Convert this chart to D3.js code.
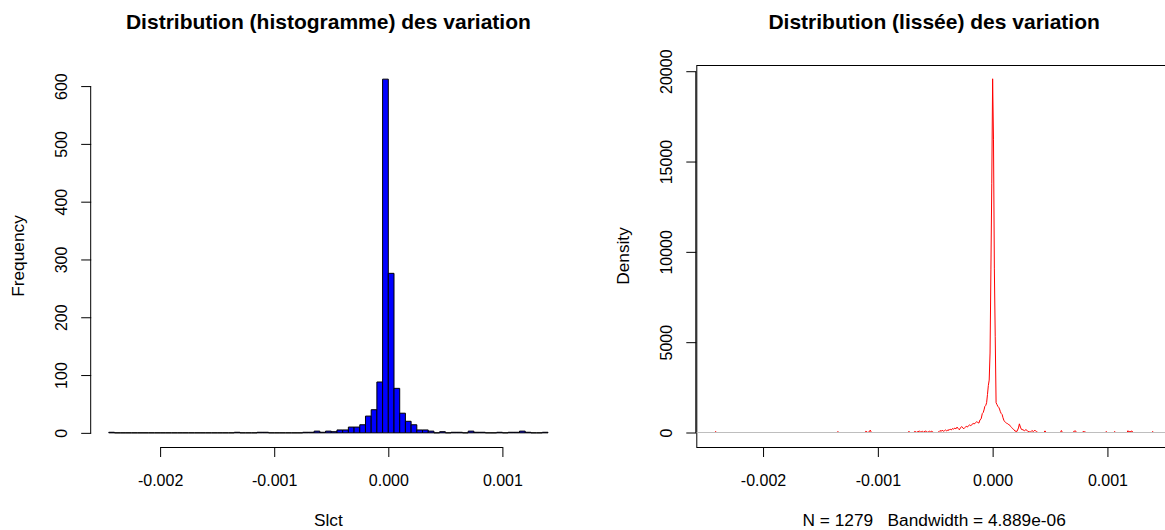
<!DOCTYPE html>
<html><head><meta charset="utf-8">
<script src="https://cdn.jsdelivr.net/npm/d3@7"></script>
<style>
html,body{margin:0;padding:0;background:#fff;}
svg{display:block;font-family:"Liberation Sans",Arial,Helvetica,sans-serif;}
</style></head><body>
<svg id="chart" width="1165" height="530"></svg>
<script>
// Histogram: first break and bin width, then counts per bin
const binStart = -0.00245;
const binWidth = 0.00005;
const counts = [
  1, 0,0,0,0,0,0,0,0,0,0,0,0,0,0,0,0,0,0,0,0,0,
  1, 0,0,0, 1, 1, 0,0,0,0,0,0,
  1, 1, 3, 1, 3, 2, 5, 5, 10, 10, 14, 29, 40, 88, 612,
  276, 77, 34, 20, 14, 5, 5, 3, 0, 2, 0, 1, 1, 0, 3, 1, 1, 0, 0, 1, 0, 1, 1, 3, 1, 0, 0, 1
];

// Kernel density estimate: [x, density]
const densityPoints = [
  [-0.002428, 0],
  [-0.002421, 0], [-0.002413, 60], [-0.002405, 0],
  [-0.001356, 0], [-0.001348, 58], [-0.001340, 0],
  [-0.001112, 0], [-0.001104, 75], [-0.001092, 8], [-0.001080, 15], [-0.001066, 130], [-0.001056, 0],
  [-0.000737, 0], [-0.000729, 70], [-0.000721, 0],
  [-0.000690, 0], [-0.000677, 60], [-0.000664, 10], [-0.000650, 50], [-0.000638, 75], [-0.000625, 20],
  [-0.000612, 65], [-0.000600, 15], [-0.000588, 80], [-0.000577, 60], [-0.000565, 10], [-0.000551, 70],
  [-0.000540, 40], [-0.000530, 70], [-0.000518, 5], [-0.000505, 0],
  [-0.000480, 0], [-0.000468, 40], [-0.000458, 110], [-0.000448, 60], [-0.000440, 130], [-0.000430, 70],
  [-0.000420, 100], [-0.000410, 140], [-0.000400, 80], [-0.000390, 150], [-0.000380, 120], [-0.000370, 190],
  [-0.000360, 140], [-0.000350, 220], [-0.000340, 180], [-0.000330, 250], [-0.000320, 200], [-0.000310, 300],
  [-0.000300, 220], [-0.000290, 150], [-0.000280, 260], [-0.000270, 330], [-0.000260, 250], [-0.000250, 210],
  [-0.000240, 280], [-0.000230, 350], [-0.000220, 300], [-0.000210, 380], [-0.000200, 420], [-0.000190, 380],
  [-0.000180, 440], [-0.000170, 500], [-0.000160, 470], [-0.000150, 540], [-0.000140, 590], [-0.000130, 560],
  [-0.000120, 520], [-0.000110, 700], [-0.000100, 760],
  [-0.0000900, 1050], [-0.0000825, 1100], [-0.0000750, 1250], [-0.0000675, 1450], [-0.0000600, 1500],
  [-0.0000525, 1650], [-0.0000450, 2100], [-0.0000375, 2600], [-0.0000300, 2900], [-0.0000225, 4400],
  [-0.0000150, 9000], [-0.0000075, 13800], [0, 19580], [0.0000075, 16200], [0.0000150, 9100],
  [0.0000225, 5300], [0.0000300, 1650], [0.0000375, 1550], [0.0000450, 1450], [0.0000525, 1400],
  [0.0000600, 1300], [0.0000675, 1150], [0.0000750, 1050], [0.0000825, 1000], [0.0000900, 820],
  [0.0000975, 680], [0.0001050, 600], [0.0001125, 560], [0.0001200, 520], [0.0001275, 500],
  [0.0001350, 460], [0.0001425, 430], [0.0001500, 400], [0.0001575, 330], [0.0001650, 280],
  [0.0001725, 220], [0.0001800, 180], [0.0001875, 150], [0.000194, 80], [0.000212, 60],
  [0.000225, 250], [0.000233, 480], [0.000242, 300], [0.000251, 170], [0.000264, 150], [0.000277, 100],
  [0.000290, 160], [0.000303, 90], [0.000316, 40], [0.000329, 20], [0.000342, 110], [0.000355, 50],
  [0.000368, 130], [0.000382, 40], [0.000395, 0],
  [0.000446, 0], [0.000456, 90], [0.000466, 0],
  [0.000590, 0], [0.000599, 110], [0.000608, 0],
  [0.000703, 0], [0.000710, 90], [0.000716, 60], [0.000722, 90], [0.000730, 0],
  [0.000782, 0], [0.000790, 70], [0.000797, 20], [0.000803, 60], [0.000810, 0],
  [0.000982, 0], [0.000990, 60], [0.000998, 0],
  [0.001055, 0], [0.001063, 60], [0.001071, 0],
  [0.001170, 0], [0.001179, 100], [0.001188, 30], [0.001196, 60], [0.001205, 40], [0.001213, 90], [0.001222, 0],
  [0.001386, 0], [0.001394, 60], [0.001402, 0],
  [0.001409, 0]
];

const xTicks = [-0.002, -0.001, 0, 0.001];
const xTickLabels = ["-0.002", "-0.001", "0.000", "0.001"];
const freqTicks = [0, 100, 200, 300, 400, 500, 600];
const densTicks = [0, 5000, 10000, 15000, 20000];
const sampleSize = 1279;
const bandwidthLabel = "4.889e-06";

const titleHist = "Distribution (histogramme) des variation";
const titleDens = "Distribution (lissée) des variation";
const xLabelHist = "Slct";
const yLabelHist = "Frequency";
const yLabelDens = "Density";

const svg = d3.select("#chart");
const FS = 16;        // tick labels
const FS_LAB = 17.3;  // axis titles
const FS_MAIN = 21;   // main titles

// R-style 4% range extension
const expand = ([a, b]) => { const p = (b - a) * 0.04; return [a - p, b + p]; };

const panelL = { x0: 91.2, x1: 565.6, y0: 65, y1: 447 };
const panelR = { x0: 696.3, x1: 1172, y0: 65, y1: 447 };

const breaks = counts.map((_, i) => binStart + i * binWidth).concat([binStart + counts.length * binWidth]);
const bins = counts.map((c, i) => ({ x0: breaks[i], x1: breaks[i + 1], n: c }));

const xL = d3.scaleLinear().domain(expand([breaks[0], breaks[breaks.length - 1]])).range([panelL.x0, panelL.x1]);
const yL = d3.scaleLinear().domain(expand([0, d3.max(counts)])).range([panelL.y1, panelL.y0]);

const xR = d3.scaleLinear().domain(expand(d3.extent(densityPoints, d => d[0]))).range([panelR.x0, panelR.x1]);
const yR = d3.scaleLinear().domain(expand([0, d3.max(densityPoints, d => d[1])])).range([panelR.y1, panelR.y0]);
// put the zero level on a pixel centre so the grey zero line fully covers the flat curve
const snap = yR(0) - Math.floor(yR(0)) - 0.5;
yR.range(yR.range().map(v => v - snap));

// axis helpers: line spans first to last tick, ticks outward
function bottomAxis(y, scale) {
  const g = svg.append("g").attr("transform", `translate(0,${y})`)
    .call(d3.axisBottom(scale).tickValues(xTicks).tickFormat((d, i) => xTickLabels[i]).tickSize(10).tickSizeOuter(0));
  g.attr("font-size", FS).attr("font-family", null).attr("color", "#000");
  g.select(".domain").attr("d", `M${scale(xTicks[0]) + 0.5},0.5H${scale(xTicks[xTicks.length - 1]) + 0.5}`);
  g.selectAll(".tick text").attr("dy", null).attr("y", 38.5);
  return g;
}
function leftAxis(x, scale, ticks) {
  const g = svg.append("g").attr("transform", `translate(${x},0)`)
    .call(d3.axisLeft(scale).tickValues(ticks).tickSize(10).tickSizeOuter(0).tickFormat(d3.format("d")));
  g.attr("font-size", FS).attr("font-family", null).attr("color", "#000");
  g.select(".domain").attr("d", `M-0.5,${scale(ticks[0]) + 0.5}V${scale(ticks[ticks.length - 1]) + 0.5}`);
  g.selectAll(".tick text")
    .attr("dy", null).attr("x", 0).attr("y", -24.5)
    .attr("text-anchor", "middle").attr("transform", "rotate(-90)");
  return g;
}

// ---- histogram panel ----
svg.append("g").selectAll("path").data(bins).join("path")
  .attr("d", d => `M${xL(d.x0)},${yL(0)}V${yL(d.n)}H${xL(d.x1)}V${yL(0)}Z`)
  .attr("fill", "#0000ff").attr("stroke", "#000").attr("stroke-width", 1);

bottomAxis(panelL.y1, xL);
leftAxis(panelL.x0, yL, freqTicks);

// ---- density panel ----
svg.append("rect")
  .attr("x", panelR.x0 + 0.5).attr("y", panelR.y0 + 0.5)
  .attr("width", panelR.x1 - panelR.x0).attr("height", panelR.y1 - panelR.y0)
  .attr("fill", "none").attr("stroke", "#000").attr("stroke-width", 1);

svg.append("path").datum(densityPoints)
  .attr("d", d3.line().x(d => xR(d[0])).y(d => yR(d[1])))
  .attr("fill", "none").attr("stroke", "#ff0000").attr("stroke-width", 1);

svg.append("line")
  .attr("x1", panelR.x0).attr("x2", panelR.x1)
  .attr("y1", yR(0)).attr("y2", yR(0))
  .attr("stroke", "#bebebe").attr("stroke-width", 1);

bottomAxis(panelR.y1, xR);
leftAxis(panelR.x0, yR, densTicks);

// ---- titles and axis labels ----
const cxL = (panelL.x0 + panelL.x1) / 2, cxR = (panelR.x0 + panelR.x1) / 2;
const cy = (panelL.y0 + panelL.y1) / 2;

svg.append("text").attr("x", cxL).attr("y", 29).attr("text-anchor", "middle")
  .attr("font-weight", "bold").attr("font-size", FS_MAIN).text(titleHist);
svg.append("text").attr("x", cxR).attr("y", 29).attr("text-anchor", "middle")
  .attr("font-weight", "bold").attr("font-size", FS_MAIN).text(titleDens);

svg.append("text").attr("x", cxL).attr("y", 525.5).attr("text-anchor", "middle")
  .attr("font-size", FS_LAB).text(xLabelHist);
svg.append("text").attr("x", cxR).attr("y", 525.5).attr("text-anchor", "middle")
  .attr("font-size", FS_LAB).style("white-space", "pre")
  .text(`N = ${sampleSize}   Bandwidth = ${bandwidthLabel}`);

svg.append("text").attr("transform", `translate(${panelL.x0 - 67.5},${cy}) rotate(-90)`)
  .attr("text-anchor", "middle").attr("font-size", FS_LAB).text(yLabelHist);
svg.append("text").attr("transform", `translate(${panelR.x0 - 67.5},${cy}) rotate(-90)`)
  .attr("text-anchor", "middle").attr("font-size", FS_LAB).text(yLabelDens);
</script>
</body></html>
